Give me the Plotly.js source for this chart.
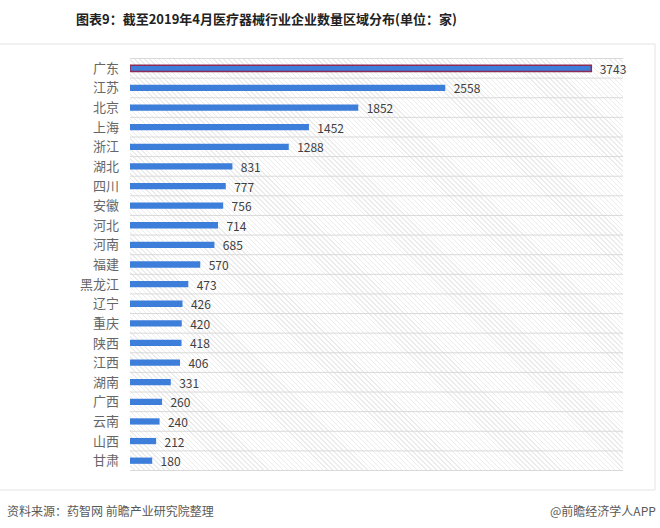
<!DOCTYPE html>
<html>
<head>
<meta charset="utf-8">
<script src="https://cdn.plot.ly/plotly-3.0.1.min.js"></script>
<style>
  html, body { margin: 0; padding: 0; background: #fff; }
  #wrap { position: relative; width: 660px; height: 528px; }
  #hatch { position: absolute; left: 130px; top: 58px; width: 493px; height: 413px;
    background: repeating-linear-gradient(45deg, #ececec 0 1px, #ffffff 1px 3.5px); }
  #chart { position: absolute; left: 0; top: 0; width: 660px; height: 528px; }
</style>
</head>
<body>
<div id="wrap">
  <div id="hatch"></div>
  <div id="chart"></div>
</div>
<script>
const regions = ["广东","江苏","北京","上海","浙江","湖北","四川","安徽","河北","河南","福建","黑龙江","辽宁","重庆","陕西","江西","湖南","广西","云南","山西","甘肃"];
const counts = [3743,2558,1852,1452,1288,831,777,756,714,685,570,473,426,420,418,406,331,260,240,212,180];
const titleText = "图表9：截至2019年4月医疗器械行业企业数量区域分布(单位：家)";
const sourceText = "资料来源：药智网 前瞻产业研究院整理";
const creditText = "@前瞻经济学人APP";

const font = "'Microsoft YaHei', 'Noto Sans CJK SC', sans-serif";

const lineWidths = regions.map((r, i) => i === 0 ? 1.5 : 0);

const trace = {
  type: 'bar',
  orientation: 'h',
  y: regions,
  x: counts,
  width: 0.32,
  marker: { color: '#3D7EDB', line: { color: '#8E2A55', width: lineWidths } },
  text: counts.map(String),
  texttemplate: '  %{text}',
  textposition: 'outside',
  constraintext: 'none',
  cliponaxis: false,
  textfont: { family: font, size: 12, color: '#404040' },
  hoverinfo: 'none'
};

const px = v => (v - 130) / 493;
const py = v => (471 - v) / 413;

const shapes = [];
for (let i = 0; i <= regions.length; i++) {
  shapes.push({ type: 'line', xref: 'paper', yref: 'y', x0: 0, x1: 1, y0: i - 0.5, y1: i - 0.5,
    line: { color: '#d9d9d9', width: 1 } });
}
shapes.push(
  { type: 'line', xref: 'paper', yref: 'paper', x0: px(0), x1: px(655), y0: py(44), y1: py(44), line: { color: '#e3e3e3', width: 1 } },
  { type: 'line', xref: 'paper', yref: 'paper', x0: px(655), x1: px(655), y0: py(44), y1: py(490), line: { color: '#e3e3e3', width: 1 } },
  { type: 'line', xref: 'paper', yref: 'paper', x0: px(0), x1: px(655), y0: py(490), y1: py(490), line: { color: '#e3e3e3', width: 1 } }
);

const layout = {
  width: 660, height: 528,
  margin: { l: 130, r: 37, t: 58, b: 57 },
  paper_bgcolor: 'rgba(0,0,0,0)',
  plot_bgcolor: 'rgba(0,0,0,0)',
  showlegend: false,
  xaxis: { range: [0, 4000], visible: false, fixedrange: true },
  yaxis: { type: 'category', autorange: 'reversed', showgrid: false, zeroline: false, showline: false,
    ticks: '', ticklabelstandoff: 10,
    tickfont: { family: font, size: 13, color: '#666666' } },
  shapes: shapes,
  annotations: [
    { text: '<b>' + titleText + '</b>', xref: 'paper', yref: 'paper', x: px(266), y: py(18),
      xanchor: 'center', yanchor: 'middle', showarrow: false,
      font: { family: font, size: 13, color: '#222222' } },
    { text: sourceText, xref: 'paper', yref: 'paper', x: px(5), y: py(510),
      xanchor: 'left', yanchor: 'middle', showarrow: false,
      font: { family: font, size: 12, color: '#595959' } },
    { text: creditText, xref: 'paper', yref: 'paper', x: px(658), y: py(510),
      xanchor: 'right', yanchor: 'middle', showarrow: false,
      font: { family: font, size: 12, color: '#595959' } }
  ]
};

Plotly.newPlot('chart', [trace], layout, { displayModeBar: false, staticPlot: true });
</script>
</body>
</html>
